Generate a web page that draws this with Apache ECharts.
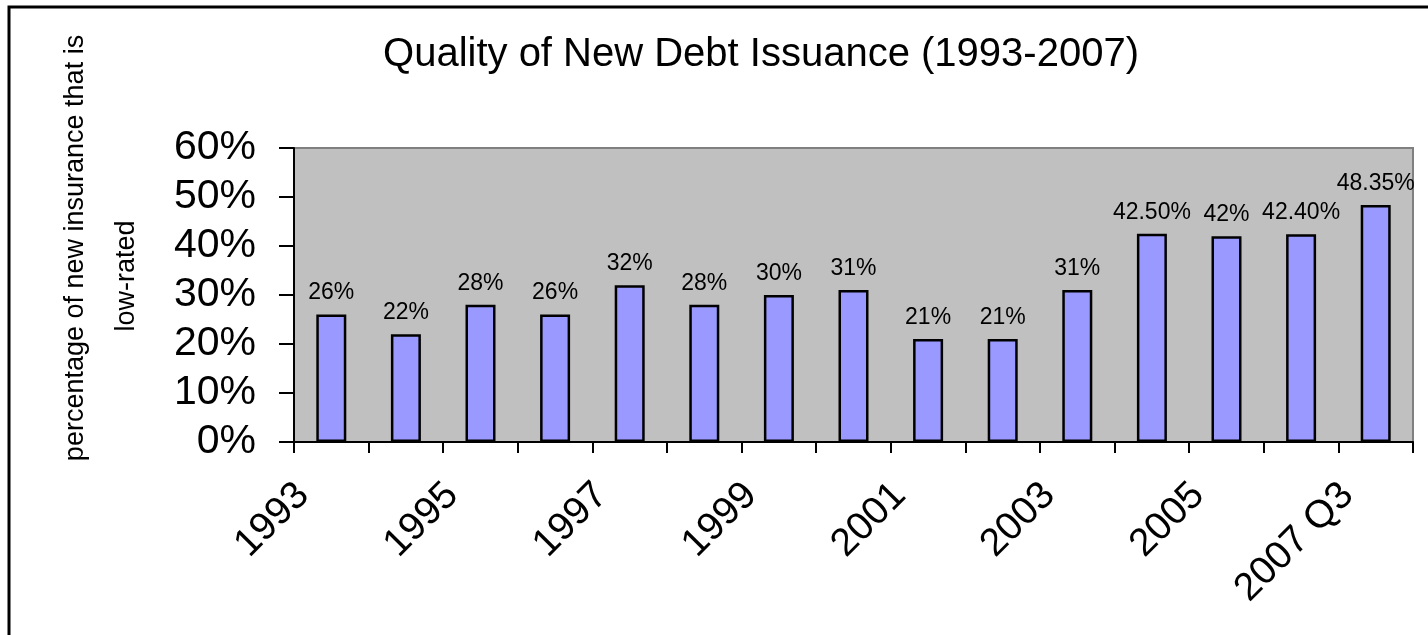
<!DOCTYPE html>
<html>
<head>
<meta charset="utf-8">
<title>Quality of New Debt Issuance</title>
<script src="https://cdn.jsdelivr.net/npm/echarts@6/dist/echarts.min.js"></script>
<style>
  html, body { margin: 0; padding: 0; background: #fff; }
  #chart { width: 1428px; height: 635px; }
</style>
</head>
<body>
<div id="chart"></div>
<script>
const years = ['1993', '1994', '1995', '1996', '1997', '1998', '1999', '2000',
  '2001', '2002', '2003', '2004', '2005', '2006', '2007 Q3']
const lowRated = [26, 22, 28, 26, 32, 28, 30, 31, 21, 21, 31, 42.5, 42, 42.4, 48.35]
const valueLabels = ['26%', '22%', '28%', '26%', '32%', '28%', '30%', '31%',
  '21%', '21%', '31%', '42.50%', '42%', '42.40%', '48.35%']
const yTicks = [0, 10, 20, 30, 40, 50, 60]

const font = '"Liberation Sans", Arial, sans-serif'
const chart = echarts.init(document.getElementById('chart'))

const option = {
  backgroundColor: '#ffffff',
  animation: false,
  title: {
    text: 'Quality of New Debt Issuance (1993-2007)',
    left: 756,
    top: 30,
    textAlign: 'center',
    textStyle: {
      color: '#000',
      fontFamily: font,
      fontSize: 40,
      fontWeight: 'normal'
    }
  },
  grid: {
    left: 294,
    right: 15,
    top: 148,
    bottom: 193,
    show: true,
    backgroundColor: '#c0c0c0',
    borderColor: '#808080',
    borderWidth: 2
  },
  graphic: [
    {
      type: 'rect',
      shape: { x: 9, y: 7, width: 1440, height: 660 },
      style: { fill: 'none', stroke: '#000', lineWidth: 3 },
      z: 100
    },
    {
      type: 'text',
      x: 76,
      y: 248,
      rotation: Math.PI / 2,
      style: {
        text: 'percentage of new insurance that is',
        fill: '#000',
        font: '27px ' + font,
        textAlign: 'center',
        textVerticalAlign: 'middle'
      }
    },
    {
      type: 'text',
      x: 127,
      y: 276,
      rotation: Math.PI / 2,
      style: {
        text: 'low-rated',
        fill: '#000',
        font: '27px ' + font,
        textAlign: 'center',
        textVerticalAlign: 'middle'
      }
    }
  ],
  xAxis: {
    type: 'category',
    data: years,
    axisLine: { lineStyle: { color: '#000', width: 2 } },
    axisTick: {
      show: true,
      interval: 0,
      length: 11,
      lineStyle: { color: '#000', width: 2 }
    },
    axisLabel: {
      interval: 1,
      rotate: 45,
      margin: 19,
      padding: [0, 40, 0, 0],
      color: '#000',
      fontFamily: font,
      fontSize: 39
    },
    splitLine: { show: false }
  },
  yAxis: {
    type: 'value',
    min: yTicks[0],
    max: yTicks[yTicks.length - 1],
    interval: 10,
    axisLine: { show: true, lineStyle: { color: '#000', width: 2 } },
    axisTick: {
      show: true,
      length: 15,
      lineStyle: { color: '#000', width: 2 }
    },
    axisLabel: {
      margin: 38,
      color: '#000',
      fontFamily: font,
      fontSize: 41,
      formatter: '{value}%'
    },
    splitLine: { show: false }
  },
  series: [
    {
      name: 'low-rated',
      type: 'bar',
      data: lowRated,
      barWidth: 30,
      itemStyle: {
        color: '#9999ff',
        borderColor: '#000',
        borderWidth: 2.5
      },
      label: {
        show: true,
        position: 'top',
        distance: 10,
        color: '#000',
        fontFamily: font,
        fontSize: 23,
        formatter: p => valueLabels[p.dataIndex]
      }
    }
  ]
}

chart.setOption(option)
window.addEventListener('resize', () => chart.resize())
</script>
</body>
</html>
